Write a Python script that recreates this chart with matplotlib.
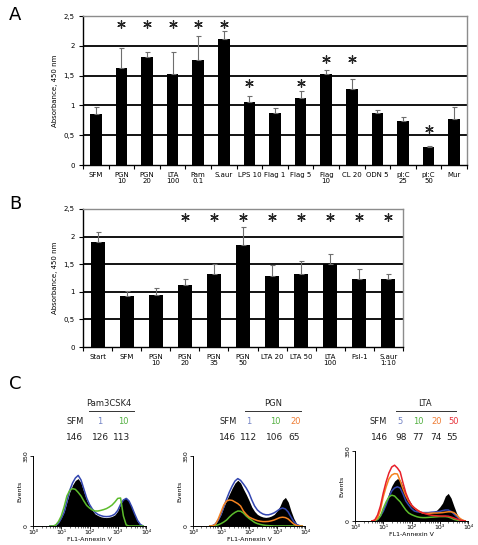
import numpy as np
import matplotlib
matplotlib.use("Agg")
import matplotlib.pyplot as plt
from matplotlib.lines import Line2D

W, H = 478, 545

# ---- panel A data ----
labels_a = ["SFM", "PGN\n10", "PGN\n20", "LTA\n100", "Pam\n0.1", "S.aur", "LPS 10",
            "Flag 1", "Flag 5", "Flag\n10", "CL 20", "ODN 5", "pI:C\n25", "pI:C\n50", "Mur"]
values_a = [0.85, 1.63, 1.81, 1.52, 1.77, 2.11, 1.05, 0.87, 1.12, 1.53, 1.28, 0.88, 0.74, 0.30, 0.78]
err_a = [0.13, 0.33, 0.09, 0.38, 0.39, 0.14, 0.11, 0.08, 0.12, 0.06, 0.16, 0.05, 0.07, 0.02, 0.20]
stars_a = [None, 2.37, 2.37, 2.37, 2.37, 2.37, 1.38, None, 1.38, 1.78, 1.78, None, None, 0.60, None]

# ---- panel B data ----
labels_b = ["Start", "SFM", "PGN\n10", "PGN\n20", "PGN\n35", "PGN\n50", "LTA 20", "LTA 50",
            "LTA\n100", "Fsl-1", "S.aur\n1:10"]
values_b = [1.90, 0.93, 0.95, 1.13, 1.33, 1.84, 1.28, 1.32, 1.50, 1.24, 1.23]
err_b = [0.19, 0.08, 0.11, 0.11, 0.17, 0.33, 0.21, 0.23, 0.18, 0.17, 0.09]
stars_b = [None, None, None, 2.35, 2.35, 2.35, 2.35, 2.35, 2.35, 2.35, 2.35]

yticks_bar = [0, 0.5, 1, 1.5, 2, 2.5]
ytick_labels_bar = ["0", "0,5", "1", "1,5", "2", "2,5"]

# ---- panel C data: histogram counts at log10(FL1) positions ----
log_fl1 = [0.6, 0.7, 0.8, 0.9, 1.0, 1.1, 1.2, 1.3, 1.4, 1.5, 1.6, 1.7, 1.8, 1.9, 2.0, 2.1, 2.2,
           2.3, 2.4, 2.5, 2.6, 2.7, 2.8, 2.9, 3.0, 3.1, 3.2, 3.3, 3.4, 3.5, 3.6, 3.7, 3.8, 3.9]
fl1_ticks = [1, 10, 100, 1000, 10000]
fl1_tick_labels = ["10\u2070", "10\u00b9", "10\u00b2", "10\u00b3", "10\u2074"]

pam_sfm = [0, 0, 3, 15, 40, 70, 120, 170, 205, 228, 237, 215, 170, 128, 100, 78, 60,
           52, 46, 43, 42, 44, 48, 56, 75, 110, 135, 142, 125, 92, 55, 22, 5, 0]
pam_1 = [0, 0, 3, 14, 38, 68, 122, 178, 215, 240, 253, 230, 185, 140, 108, 85, 68,
         58, 52, 48, 47, 48, 52, 60, 78, 108, 130, 138, 125, 95, 60, 28, 8, 0]
pam_10 = [0, 0, 4, 22, 50, 95, 150, 178, 187, 183, 168, 150, 125, 103, 90, 80, 75,
          75, 78, 82, 87, 95, 105, 120, 138, 140, 50, 5, 0, 0, 0, 0, 0, 0]

pgn_sfm = [0, 2, 10, 30, 58, 95, 130, 160, 190, 215, 229, 215, 185, 158, 128, 95, 73,
           58, 50, 45, 43, 45, 50, 58, 75, 98, 130, 143, 120, 75, 38, 12, 3, 0]
pgn_1 = [0, 2, 10, 30, 58, 95, 135, 170, 200, 225, 237, 228, 210, 190, 165, 130, 100,
         80, 68, 60, 56, 56, 60, 66, 75, 85, 90, 85, 70, 45, 22, 8, 2, 0]
pgn_10 = [0, 0, 2, 6, 12, 20, 30, 45, 58, 68, 75, 74, 65, 50, 38, 28, 18,
          12, 8, 5, 3, 2, 1, 0, 0, 0, 0, 0, 0, 0, 0, 0, 0, 0]
pgn_20 = [0, 1, 8, 35, 70, 105, 125, 130, 128, 120, 112, 100, 75, 58, 45, 38, 32,
          27, 24, 22, 22, 23, 26, 30, 36, 42, 44, 42, 35, 22, 10, 3, 0, 0]

lta_sfm = [0, 3, 12, 30, 55, 95, 140, 175, 200, 212, 205, 170, 135, 108, 85, 65, 54,
           45, 40, 38, 38, 42, 48, 55, 70, 90, 125, 138, 115, 75, 38, 10, 2, 0]
lta_5 = [0, 2, 8, 25, 48, 80, 120, 150, 165, 171, 165, 135, 100, 80, 62, 50, 46,
         44, 42, 42, 42, 44, 45, 46, 48, 52, 55, 55, 48, 35, 22, 10, 3, 0]
lta_10 = [0, 2, 8, 25, 63, 95, 120, 129, 125, 110, 96, 75, 55, 40, 32, 26, 21,
          18, 17, 17, 18, 19, 20, 21, 22, 22, 22, 20, 15, 8, 5, 2, 0, 0]
lta_20 = [0, 3, 15, 55, 121, 170, 210, 230, 237, 235, 200, 160, 125, 98, 78, 65, 55,
          46, 40, 38, 38, 39, 40, 40, 41, 42, 44, 46, 46, 42, 30, 15, 5, 0]
lta_50 = [0, 5, 30, 75, 140, 195, 240, 270, 279, 265, 245, 190, 140, 105, 80, 66, 55,
          46, 40, 36, 32, 29, 27, 26, 25, 25, 25, 24, 20, 15, 10, 5, 2, 0]

BLUE = "#3346b0"
GREEN = "#5cbc2c"
ORANGE = "#f5821f"
RED = "#e8202a"


def box(l, t, r, b):
    return [l / W, 1 - b / H, (r - l) / W, (b - t) / H]


def px(x, y):
    return x / W, 1 - y / H


def bar_panel(ax, labels, values, err, stars, width):
    x = np.arange(len(labels))
    for g in yticks_bar[1:-1]:
        ax.axhline(g, color="black", lw=1.3, zorder=1)
    ax.bar(x, values, width=width, color="black", zorder=2)
    ax.errorbar(x, values, yerr=[np.zeros(len(err)), err], fmt="none",
                ecolor="#6e6e6e", elinewidth=0.8, capsize=1.8, capthick=0.8, zorder=3)
    sx = [xi for xi, s in zip(x, stars) if s is not None]
    sy = [s for s in stars if s is not None]
    ax.scatter(sx, sy, marker=(6, 2, 0), s=30, linewidths=0.9, color="#262626", zorder=4)
    ax.set_xlim(-0.5, len(labels) - 0.5)
    ax.set_ylim(0, 2.5)
    ax.set_yticks(yticks_bar)
    ax.set_yticklabels(ytick_labels_bar)
    ax.set_xticks(x)
    ax.set_xticklabels(labels, linespacing=1.1)
    ax.set_xticks(np.arange(len(labels) + 1) - 0.5, minor=True)
    ax.tick_params(axis="x", which="major", length=0, labelsize=5, pad=5)
    ax.tick_params(axis="x", which="minor", length=3, width=0.8, direction="out")
    ax.tick_params(axis="y", length=3, width=0.8, labelsize=5, pad=3)
    for side in ["top", "right"]:
        ax.spines[side].set_color("#8c8c8c")
        ax.spines[side].set_linewidth(1.0)
    for side in ["left", "bottom"]:
        ax.spines[side].set_linewidth(1.0)
    ax.set_ylabel("Absorbance, 450 nm", fontsize=5, labelpad=4)


def hist_panel(ax, black, curves):
    xs = 10 ** np.array(log_fl1)
    ax.fill_between(xs, black, 0, color="black", lw=0, zorder=2)
    for ys, col in curves:
        ax.plot(xs, ys, color=col, lw=1.1, zorder=3)
    ax.set_xscale("log")
    ax.set_xlim(1, 1e4)
    ax.set_ylim(0, 350)
    ax.set_yticks([0, 350])
    ax.set_yticklabels(["0", "350"], rotation=90, va="center")
    ax.set_xticks(fl1_ticks)
    ax.set_xticklabels(fl1_tick_labels)
    ax.tick_params(axis="both", which="major", labelsize=4.5, length=2.5, width=0.6, pad=0.5)
    ax.tick_params(axis="x", which="minor", length=1.5, width=0.4)
    ax.spines["top"].set_visible(False)
    ax.spines["right"].set_visible(False)
    for side in ["left", "bottom"]:
        ax.spines[side].set_linewidth(0.7)
    ax.set_xlabel("FL1-Annexin V", fontsize=4.5)
    ax.xaxis.set_label_coords(0.5, -0.155)
    ax.set_ylabel("Events", fontsize=4.5, labelpad=1)


fig = plt.figure(figsize=(W / 100, H / 100), dpi=100)

ax_a = fig.add_axes(box(83, 16, 467, 165))
bar_panel(ax_a, labels_a, values_a, err_a, stars_a, 0.46)
ax_b = fig.add_axes(box(83, 209, 403, 347))
bar_panel(ax_b, labels_b, values_b, err_b, stars_b, 0.48)

fig.text(*px(15, 15), "A", fontsize=13, ha="center", va="center")
fig.text(*px(15, 204), "B", fontsize=13, ha="center", va="center")
fig.text(*px(15, 384), "C", fontsize=13, ha="center", va="center")

h1 = fig.add_axes(box(33, 456, 146, 526))
hist_panel(h1, pam_sfm, [(pam_1, BLUE), (pam_10, GREEN)])
h2 = fig.add_axes(box(193, 456, 305, 526))
hist_panel(h2, pgn_sfm, [(pgn_1, BLUE), (pgn_10, GREEN), (pgn_20, ORANGE)])
h3 = fig.add_axes(box(355, 451, 468, 521))
hist_panel(h3, lta_sfm, [(lta_5, BLUE), (lta_10, GREEN), (lta_20, ORANGE), (lta_50, RED)])

# headers over the histograms
LBL_BLUE, LBL_GREEN, LBL_ORANGE, LBL_RED = "#7282c4", "#52b040", "#ef7d35", "#e8323a"
headers = [
    ("Pam3CSK4", 109, (89, 134),
     [("SFM", 75, "#222222"), ("1", 100, LBL_BLUE), ("10", 123, LBL_GREEN)],
     [("146", 75), ("126", 101), ("113", 122)]),
    ("PGN", 273, (245, 301),
     [("SFM", 228, "#222222"), ("1", 249, LBL_BLUE), ("10", 275, LBL_GREEN), ("20", 296, LBL_ORANGE)],
     [("146", 228), ("112", 249), ("106", 275), ("65", 294)]),
    ("LTA", 425, (396, 456),
     [("SFM", 378, "#222222"), ("5", 400, LBL_BLUE), ("10", 418, LBL_GREEN),
      ("20", 437, LBL_ORANGE), ("50", 454, LBL_RED)],
     [("146", 380), ("98", 401), ("77", 418), ("74", 436), ("55", 452)]),
]
for title, cx, (l0, l1), row, nums in headers:
    fig.text(*px(cx, 403), title, fontsize=6, ha="center", va="center", color="#222222")
    fig.add_artist(Line2D([l0 / W, l1 / W], [1 - 411 / H, 1 - 411 / H],
                          color="#333333", lw=0.7))
    for txt, x, col in row:
        fig.text(*px(x, 421), txt, fontsize=6, ha="center", va="center", color=col)
    for txt, x in nums:
        fig.text(*px(x, 437), txt, fontsize=6.5, ha="center", va="center", color="#222222")

fig.savefig("out.png", dpi=100)
